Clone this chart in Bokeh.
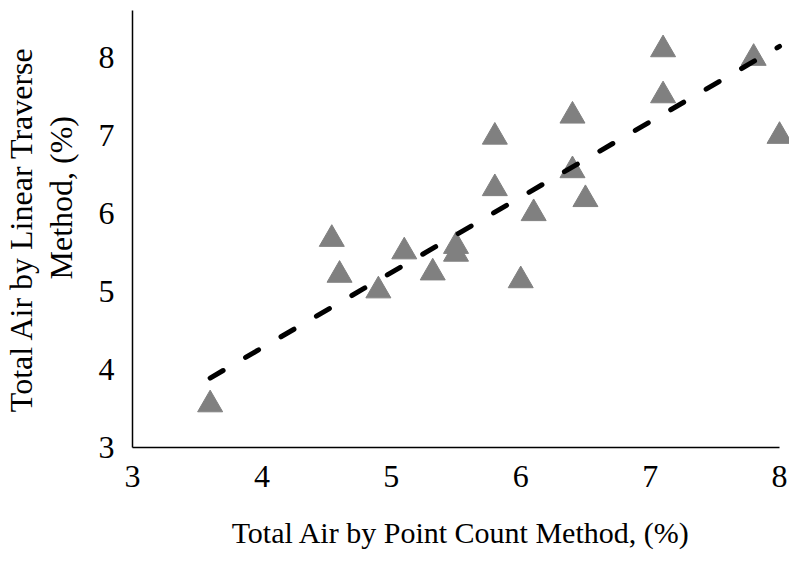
from bokeh.plotting import figure
from bokeh.models import ColumnDataSource, Range1d, FixedTicker, Title
from bokeh.embed import file_html
from bokeh.resources import INLINE

# Data
point_count = [3.6, 4.54, 4.6, 4.9, 5.1, 5.32, 5.5, 5.5, 5.8, 5.8, 6.1, 6.0,
               6.4, 6.4, 6.5, 7.1, 7.1, 7.8, 8.0]
linear_traverse = [3.55, 5.67, 5.21, 5.01, 5.51, 5.24, 5.58, 5.48, 6.98, 6.32, 6.0, 5.14,
                   7.25, 6.55, 6.18, 8.1, 7.51, 7.99, 6.99]
trend_x = [3.6, 8.0]
trend_y = [3.89, 8.14]
x_ticks = [3, 4, 5, 6, 7, 8]
y_ticks = [3, 4, 5, 6, 7, 8]

FONT = "Liberation Serif"

p = figure(width=789, height=562, output_backend="svg", toolbar_location=None,
           x_range=Range1d(3, 8.077), y_range=Range1d(3, 8.6),
           min_border_left=132, min_border_right=0, min_border_top=10, min_border_bottom=115)
p.outline_line_color = None
p.grid.visible = False

src = ColumnDataSource(dict(x=point_count, y=linear_traverse))
p.scatter("x", "y", source=src, marker="triangle", size=25,
          fill_color="#808080", line_color="#808080")

p.line(trend_x, trend_y, line_color="black", line_width=5, line_dash="15 26", line_cap="round")

for ax, ticks in ((p.xaxis[0], x_ticks), (p.yaxis[0], y_ticks)):
    ax.ticker = FixedTicker(ticks=ticks)
    ax.axis_line_color = "black"
    ax.axis_line_width = 1.5
    ax.major_tick_line_color = None
    ax.minor_tick_line_color = None
    ax.major_label_text_font = FONT
    ax.major_label_text_font_size = "32px"
    ax.major_label_text_color = "black"

p.xaxis.bounds = (3, 8)
p.xaxis.major_label_standoff = 12
p.yaxis.major_label_standoff = 12

p.xaxis.axis_label = "Total Air by Point Count Method, (%)"
p.xaxis.axis_label_text_font = FONT
p.xaxis.axis_label_text_font_size = "30px"
p.xaxis.axis_label_text_font_style = "normal"
p.xaxis.axis_label_text_color = "black"
p.xaxis.axis_label_standoff = 26

t_method = Title(text="Method, (%)", align="left", offset=168, standoff=34,
                 text_font=FONT, text_font_size="32px", text_font_style="normal",
                 text_color="black")
t_total = Title(text="Total Air by Linear Traverse", align="center", standoff=-30,
                text_font=FONT, text_font_size="32px", text_font_style="normal",
                text_color="black")
p.add_layout(t_method, "left")
p.add_layout(t_total, "left")

open("out.html", "w").write(file_html(p, INLINE))
